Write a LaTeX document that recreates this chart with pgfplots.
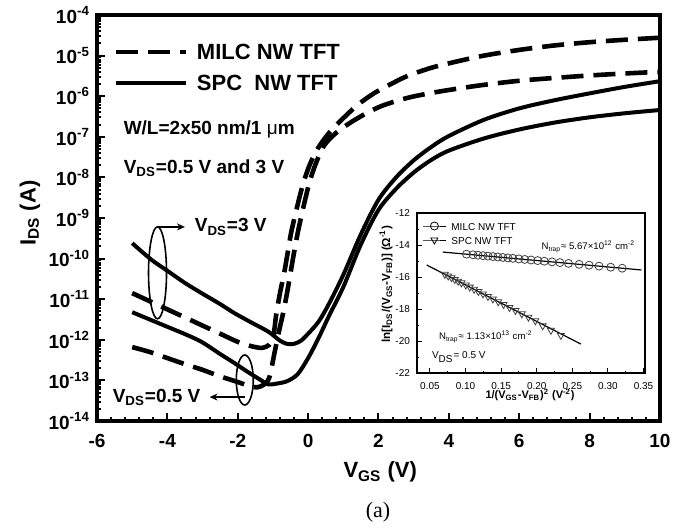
\documentclass[border=0pt]{standalone}
\usepackage{fontspec}
\setmainfont{Liberation Sans}
\newfontfamily\serifa{Liberation Serif}
\usepackage{pgfplots}
\usepackage{pgfplotstable}
\pgfplotsset{compat=1.18}
\usetikzlibrary{arrows.meta}
\newcommand\fs[1]{\fontsize{#1}{#1}\selectfont}
\def\minorlist{}
\foreach \n in {-14,...,-5}{%
  \foreach \k in {0.30103,0.47712,0.60206,0.69897,0.77815,0.84510,0.90309,0.95424}{%
    \pgfmathsetmacro\v{\n+\k}%
    \xdef\minorlist{\minorlist\v,}}}

% log10(I_DS) data
\pgfplotstableread{
x y
-5.0 -10.85
-4.5 -11.05
-4.0 -11.25
-3.5 -11.45
-3.0 -11.65
-2.5 -11.85
-2.0 -12.05
-1.6 -12.16
-1.3 -12.2
-1.1 -12.12
-1.0 -11.97
-0.96 -11.76
-0.91 -11.40
-0.8 -10.85
-0.68 -10.35
-0.57 -9.80
-0.48 -9.35
-0.3 -8.68
-0.14 -8.15
0.05 -7.68
0.28 -7.28
0.6 -6.9
0.93 -6.6
1.4 -6.22
1.87 -5.93
2.4 -5.68
2.83 -5.50
3.5 -5.30
4.2 -5.15
5.0 -5.0
6.0 -4.86
7.0 -4.75
8.0 -4.67
9.0 -4.61
10.0 -4.56
}\milcthree
\pgfplotstableread{
x y
-5.0 -12.18
-4.5 -12.3
-4.0 -12.45
-3.5 -12.6
-3.0 -12.74
-2.5 -12.9
-2.0 -13.04
-1.7 -13.13
-1.45 -13.17
-1.25 -13.1
-1.1 -12.92
-0.95 -12.3
-0.82 -11.76
-0.71 -11.34
-0.6 -10.85
-0.5 -10.35
-0.4 -9.85
-0.28 -9.3
-0.12 -8.68
0.03 -8.15
0.2 -7.7
0.45 -7.22
0.8 -6.9
1.22 -6.64
1.7 -6.4
2.15 -6.22
2.83 -6.04
3.5 -5.92
4.2 -5.82
5.0 -5.72
6.0 -5.62
7.0 -5.55
8.0 -5.49
9.0 -5.44
10.0 -5.4
}\milchalf
\pgfplotstableread{
x y
-5.0 -9.62
-4.45 -10.03
-4.0 -10.3
-3.5 -10.6
-3.03 -10.85
-2.5 -11.12
-2.1 -11.34
-1.6 -11.58
-1.13 -11.8
-0.8 -12.02
-0.6 -12.1
-0.4 -12.1
-0.2 -12.02
0.0 -11.85
0.3 -11.55
0.6 -11.1
1.0 -10.4
1.5 -9.4
2.0 -8.55
2.5 -8.0
3.0 -7.58
3.5 -7.25
4.0 -6.98
5.0 -6.58
6.0 -6.3
7.0 -6.1
8.0 -5.93
9.0 -5.77
10.0 -5.63
}\spcthree
\pgfplotstableread{
x y
-5.0 -11.32
-4.5 -11.5
-4.0 -11.68
-3.5 -11.86
-3.03 -12.05
-2.5 -12.35
-2.1 -12.57
-1.7 -12.8
-1.33 -13.0
-1.13 -13.1
-0.9 -13.08
-0.6 -13.02
-0.3 -12.85
0.0 -12.45
0.3 -11.95
0.6 -11.4
1.0 -10.7
1.5 -9.65
2.0 -8.8
2.5 -8.28
3.0 -7.88
3.5 -7.57
4.0 -7.34
5.0 -7.04
6.0 -6.82
7.0 -6.65
8.0 -6.52
9.0 -6.42
10.0 -6.34
}\spchalf
\pgfplotstableread{
x y
0.1013 -14.573
0.1105 -14.61
0.1175 -14.638
0.1245 -14.666
0.1315 -14.695
0.1384 -14.722
0.1454 -14.75
0.1524 -14.778
0.1594 -14.806
0.1664 -14.834
0.1747 -14.868
0.1831 -14.901
0.1920 -14.937
0.2013 -14.974
0.2106 -15.012
0.2214 -15.055
0.2325 -15.10
0.2446 -15.148
0.2595 -15.208
0.2735 -15.264
0.2874 -15.32
0.3038 -15.386
0.3200 -15.45
}\milcin
\pgfplotstableread{
x y
0.0709 -15.832
0.0756 -15.94
0.0803 -16.047
0.0849 -16.152
0.0896 -16.26
0.0942 -16.365
0.1003 -16.504
0.1059 -16.632
0.1119 -16.769
0.1180 -16.908
0.1245 -17.057
0.1315 -17.216
0.1384 -17.374
0.1459 -17.545
0.1534 -17.717
0.1617 -17.906
0.1701 -18.098
0.1790 -18.301
0.1883 -18.514
0.1980 -18.735
0.2083 -19.05
0.2199 -19.33
0.2339 -19.65
}\spcin

\begin{document}
\begin{tikzpicture}
\begin{axis}[
  name=main,
  scale only axis, width=281.5pt, height=203pt,
  xmin=-6, xmax=10, ymin=-14, ymax=-4,
  xtick={-6,-4,...,10}, minor x tick num=4,
  ytick={-14,-13,...,-4},
  yticklabels={\textbf{10\textsuperscript{-14}},\textbf{10\textsuperscript{-13}},\textbf{10\textsuperscript{-12}},\textbf{10\textsuperscript{-11}},\textbf{10\textsuperscript{-10}},\textbf{10\textsuperscript{-9}},\textbf{10\textsuperscript{-8}},\textbf{10\textsuperscript{-7}},\textbf{10\textsuperscript{-6}},\textbf{10\textsuperscript{-5}},\textbf{10\textsuperscript{-4}}},
  minor ytick/.expanded={\minorlist-4},
  tick pos=left, tick align=inside,
  major tick length=4pt, minor tick length=2pt,
  every tick/.style={black, line width=1pt},
  axis line style={line width=2pt},
  /pgf/number format/assume math mode=true,
  xticklabel style={font=\bfseries\fs{9.5}, yshift=-3pt},
  yticklabel style={font=\bfseries\fs{9.5}},
  xlabel={V\textsubscript{GS} (V)},
  xlabel style={at={(axis description cs:0.503,-0.126)}, anchor=center, font=\bfseries\fs{11}},
  ylabel={I\textsubscript{DS} (A)},
  ylabel style={at={(axis description cs:-0.119,0.512)}, anchor=center, font=\bfseries\fs{11}},
  legend style={at={(axis description cs:0.0284,0.871)}, anchor=west, draw=none, fill=none,
    inner sep=0pt, row sep=7.5pt, column sep=4.5pt,
    nodes={inner sep=0pt, text height=8pt, text depth=0pt, font=\bfseries\fs{11}}},
  legend cell align=left,
  legend image code/.code={\draw[#1] (0pt,0pt) -- (35pt,0pt);},
]
\addlegendimage{black, line width=2.3pt, dash pattern=on 11pt off 5pt}
\addlegendentry{MILC NW TFT}
\addlegendimage{black, line width=2pt}
\addlegendentry{SPC\ \ NW TFT}
\addplot[black, line width=2.3pt, dash pattern=on 11pt off 5pt, smooth, tension=0.5] table[x=x,y=y] {\milcthree};
\addplot[black, line width=2.3pt, dash pattern=on 11pt off 5pt, smooth, tension=0.5] table[x=x,y=y] {\milchalf};
\addplot[black, line width=2pt, smooth, tension=0.5] table[x=x,y=y] {\spcthree};
\addplot[black, line width=2pt, smooth, tension=0.5] table[x=x,y=y] {\spchalf};

\node[anchor=west, font=\bfseries\fs{9.5}] at (axis cs:-5.44,-6.83) {W/L=2x50 nm/1 {\mdseries μ}m};
\node[anchor=west, font=\bfseries\fs{9.5}] at (axis cs:-5.44,-7.77) {V\textsubscript{DS}=0.5 V and 3 V};
\draw[line width=0.8pt] (axis cs:-4.28,-10.35) ellipse [x radius=4.5pt, y radius=23pt];
\draw[line width=0.8pt,-{Stealth[length=4pt,width=3.5pt]}] (axis cs:-4.28,-9.22) -- (axis cs:-3.5,-9.22);
\node[anchor=west, font=\bfseries\fs{9.5}] at (axis cs:-3.42,-9.22) {V\textsubscript{DS}=3 V};
\draw[line width=0.8pt] (axis cs:-1.8,-12.99) ellipse [x radius=4.25pt, y radius=12.5pt];
\draw[line width=0.8pt,-{Stealth[length=4pt,width=3.5pt]}] (axis cs:-1.8,-13.41) -- (axis cs:-2.8,-13.41);
\node[anchor=east, font=\bfseries\fs{9.5}] at (axis cs:-2.86,-13.41) {V\textsubscript{DS}=0.5 V};
\end{axis}

\node[font=\serifa\fs{11}] at (140.5pt,-45.5pt) {(a)};

\begin{axis}[
  at={(160pt,24pt)}, anchor=south west,
  scale only axis, width=114pt, height=80pt,
  xmin=0.0318, xmax=0.352, ymin=-22, ymax=-12,
  xtick={0.05,0.10,0.15,0.20,0.25,0.30,0.35}, minor x tick num=1,
  ytick={-22,-20,-18,-16,-14,-12}, minor y tick num=1,
  tick pos=left, tick align=inside,
  major tick length=2.5pt, minor tick length=1.2pt,
  every tick/.style={black, line width=0.5pt},
  axis line style={line width=0.7pt},
  axis background/.style={fill=white},
  /pgf/number format/assume math mode=true,
  xticklabel style={font=\fs{5}, yshift=-1pt, /pgf/number format/fixed, /pgf/number format/fixed zerofill, /pgf/number format/precision=2},
  yticklabel style={font=\fs{5}},
  xlabel={1/(V\textsubscript{GS}-V\textsubscript{FB})\textsuperscript{2} (V\textsuperscript{-2})},
  xlabel style={at={(axis description cs:0.496,-0.1375)}, anchor=center, font=\bfseries\fs{5.5}},
  ylabel={ln[I\textsubscript{DS}/(V\textsubscript{GS}-V\textsubscript{FB})] (Ω\textsuperscript{-1})},
  ylabel style={at={(axis description cs:-0.136,0.556)}, anchor=center, font=\bfseries\fs{5.8}},
  legend style={at={(axis description cs:0.022,0.875)}, anchor=west, draw=none, fill=none,
    inner sep=0pt, row sep=3pt, column sep=2.5pt,
    nodes={inner sep=0pt, text height=4pt, text depth=0pt, font=\fs{5}}},
  legend cell align=left,
  legend image code/.code={\draw[mark repeat=2, mark phase=2, #1] plot coordinates {(0pt,0pt) (5.75pt,0pt) (11.5pt,0pt)};},
]
\addlegendimage{black, line width=0.5pt, mark=o, mark size=2pt, mark options={solid, line width=0.4pt}}
\addlegendentry{MILC NW TFT}
\addlegendimage{black, line width=0.5pt, mark=triangle, mark size=2pt, mark options={solid, rotate=180, line width=0.4pt}}
\addlegendentry{SPC NW TFT}
\addplot[only marks, mark=o, mark size=2pt, black!75, mark options={line width=0.4pt}] table[x=x,y=y] {\milcin};
\addplot[black, line width=0.6pt] coordinates {(0.068,-14.44) (0.347,-15.56)};
\addplot[only marks, mark=triangle, mark size=2pt, black!75, mark options={rotate=180, line width=0.4pt}] table[x=x,y=y] {\spcin};
\addplot[black, line width=0.6pt] coordinates {(0.0454,-15.25) (0.2619,-20.19)};
\node[anchor=west, font=\fs{4.8}] at (axis cs:0.197,-14.13) {N\textsubscript{trap}≈ 5.67×10\textsuperscript{12} cm\textsuperscript{-2}};
\node[anchor=west, font=\fs{4.8}] at (axis cs:0.053,-19.75) {N\textsubscript{trap}≈ 1.13×10\textsuperscript{13} cm\textsuperscript{-2}};
\node[anchor=west, font=\fs{5}] at (axis cs:0.043,-21.0) {V\textsubscript{DS}= 0.5 V};
\end{axis}

\pgfresetboundingbox
\path[use as bounding box] (-48.5pt,-53pt) rectangle (297.5pt,210.5pt);
\end{tikzpicture}
\end{document}
